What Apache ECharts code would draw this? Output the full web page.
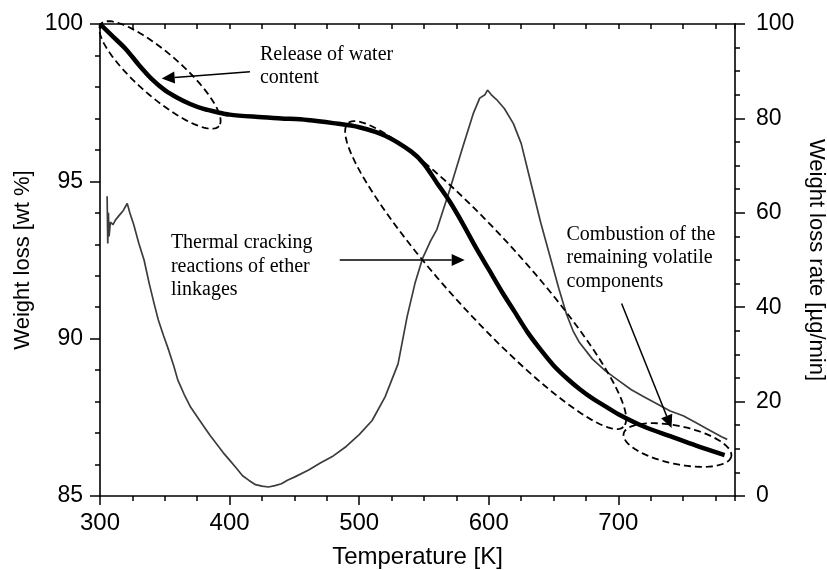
<!DOCTYPE html>
<html><head><meta charset="utf-8">
<script src="https://cdn.jsdelivr.net/npm/echarts@6/dist/echarts.min.js"></script>
<style>html,body{margin:0;padding:0;background:#fff}#c{width:827px;height:570px}</style>
</head><body><div id="c"></div>
<script>
// ---- data ----
const xTickLabels = [300, 400, 500, 600, 700];
const leftTicks = [85, 90, 95, 100];
const rightTicks = [0, 20, 40, 60, 80, 100];

// Weight loss [wt %] (thick black, left axis)
const weightT = [300,310,320,330,340,350,360,370,380,390,400,420,440,460,480,500,520,540,550,560,570,580,590,600,610,620,630,640,650,660,670,680,690,700,720,740,760,782];
const weightV = [100,99.6,99.2,98.7,98.25,97.9,97.65,97.45,97.3,97.2,97.12,97.05,97.0,96.95,96.85,96.72,96.45,95.95,95.55,94.95,94.35,93.65,92.9,92.2,91.5,90.85,90.2,89.65,89.15,88.75,88.4,88.1,87.85,87.6,87.2,86.9,86.6,86.3];

// Weight loss rate [ug/min] (thin grey, right axis)
const rateT = [305.5,306,306.5,307,308,310,312,315,318,320,321,323,326,330,334,338,342,345,349,353,357,360,365,370,375,380,385,390,395,400,405,410,415,420,425,430,435,440,445,450,461,470,480,490,500,510,520,530,537,543,549,555,560,570,580,588,593,597,599,602,606,612,619,625,631,640,647,654,660,665,670,680,690,700,710,720,730,740,750,760,770,780,784];
const rateV = [63.5,53.5,60,55,58,57.5,58.5,59.5,60.5,61.5,62,60,57.5,53.5,50,45,40.5,37.3,34,30.9,27.5,24.6,21.5,18.8,16.8,14.8,12.8,11.0,9.2,7.6,6.0,4.3,3.3,2.4,2.1,1.9,2.2,2.6,3.4,4.0,5.5,7.0,8.5,10.5,13,16,21,28,38,45,50.4,54,56.5,65,74,81,84.3,85,86,85,84,82.1,78.9,74.7,68,58,51,44,38.5,35,32.5,29,26.5,24.5,22.5,21,19.5,18,17,15.5,14,12.5,12];

// annotation anchors in data units [T, wt%]
const ellipses = [
  {c: [346.3, 98.38], rx: 78, ry: 22, angle: 41},
  {c: [597.6, 92.02], rx: 205, ry: 38, angle: 47.8},
  {c: [745.6, 86.62], rx: 55, ry: 19, angle: 12}
];
const arrows = [
  {from: [415.7, 98.48], to: [347.6, 98.27]},
  {from: [485, 92.5], to: [581.4, 92.5]},
  {from: [702.5, 91.12], to: [741, 87.16]}
];
const notes = [
  {at: [423.4, 99.40], text: 'Release of water\ncontent'},
  {at: [354.7, 93.42], text: 'Thermal cracking\nreactions of ether\nlinkages'},
  {at: [660, 93.68], text: 'Combustion of the\nremaining volatile\ncomponents'}
];

const chart = echarts.init(document.getElementById('c'), null, {renderer: 'canvas'});
const FONT = '"Liberation Sans", Arial, sans-serif';
const axisLine = {show: true, lineStyle: {color: '#000', width: 1.6}};
const XMIN = 300, XMAX = 790;

const option = {
  backgroundColor: '#fff',
  animation: false,
  grid: {left: 100, right: 92, top: 24, bottom: 74, containLabel: false, outerBoundsMode: 'none'},
  xAxis: [
    {type: 'value', position: 'bottom', min: XMIN, max: XMAX, interval: 100,
     axisLine: axisLine, splitLine: {show: false},
     axisTick: {show: true, length: 9, lineStyle: {color: '#000', width: 1.5}},
     axisLabel: {margin: 15, color: '#000', fontSize: 24, fontFamily: FONT, showMaxLabel: false,
       formatter: v => xTickLabels.indexOf(v) >= 0 ? String(v) : ''},
     name: 'Temperature [K]', nameLocation: 'middle', nameGap: 49,
     nameTextStyle: {color: '#000', fontSize: 24, fontFamily: FONT}},
    {type: 'value', position: 'bottom', min: XMIN, max: XMAX, interval: 25,
     axisLine: {show: false}, splitLine: {show: false}, axisLabel: {show: false},
     axisTick: {show: true, length: 5, lineStyle: {color: '#000', width: 1.5}}},
    {type: 'value', position: 'top', min: XMIN, max: XMAX, interval: 25,
     axisLine: axisLine, splitLine: {show: false}, axisLabel: {show: false},
     axisTick: {show: true, inside: true, length: 5, lineStyle: {color: '#000', width: 1.5}}}
  ],
  yAxis: [
    {type: 'value', position: 'left', min: 85, max: 100, interval: 5,
     axisLine: axisLine, splitLine: {show: false},
     axisTick: {show: true, length: 10, lineStyle: {color: '#000', width: 1.5}},
     minorTick: {show: true, splitNumber: 5, length: 5, lineStyle: {color: '#000', width: 1.5}},
     axisLabel: {margin: 17, color: '#000', fontSize: 23, fontFamily: FONT,
       formatter: v => leftTicks.indexOf(v) >= 0 ? String(v) : ''},
     name: 'Weight loss [wt %]', nameLocation: 'middle', nameGap: 61, nameRotate: 90,
     nameTextStyle: {color: '#000', fontSize: 22, fontFamily: FONT}},
    {type: 'value', position: 'right', min: 0, max: 100, interval: 20,
     axisLine: axisLine, splitLine: {show: false},
     axisTick: {show: true, length: 10, lineStyle: {color: '#000', width: 1.5}},
     minorTick: {show: true, splitNumber: 4, length: 5, lineStyle: {color: '#000', width: 1.5}},
     axisLabel: {margin: 21, color: '#000', fontSize: 23, fontFamily: FONT,
       formatter: v => rightTicks.indexOf(v) >= 0 ? String(v) : ''},
     name: 'Weight loss rate [\u00b5g/min]', nameLocation: 'middle', nameGap: 67, nameRotate: -90,
     nameTextStyle: {color: '#000', fontSize: 22, fontFamily: FONT}}
  ],
  series: [
    {type: 'line', name: 'rate', xAxisIndex: 0, yAxisIndex: 1, showSymbol: false, symbol: 'none',
     data: rateT.map((t, i) => [t, rateV[i]]), z: 2,
     lineStyle: {color: '#3c3c3c', width: 1.7}},
    {type: 'line', name: 'weight', xAxisIndex: 0, yAxisIndex: 0, showSymbol: false, symbol: 'none',
     smooth: 0.3,
     data: weightT.map((t, i) => [t, weightV[i]]), z: 3,
     lineStyle: {color: '#000', width: 4.5}}
  ]
};
chart.setOption(option);

function px(p) { return chart.convertToPixel({xAxisIndex: 0, yAxisIndex: 0}, p); }
const graphics = [];
ellipses.forEach(e => {
  const c = px(e.c), a = e.angle * Math.PI / 180, pts = [];
  for (let k = 0; k < 120; k++) {
    const t = k / 120 * 2 * Math.PI;
    const x = e.rx * Math.cos(t), y = e.ry * Math.sin(t);
    pts.push([c[0] + x * Math.cos(a) - y * Math.sin(a), c[1] + x * Math.sin(a) + y * Math.cos(a)]);
  }
  graphics.push({type: 'polygon', shape: {points: pts}, z: 10,
    style: {fill: 'none', stroke: '#000', lineWidth: 1.8, lineDash: [7, 4]}});
});
arrows.forEach(ar => {
  const f = px(ar.from), t = px(ar.to);
  const dx = t[0] - f[0], dy = t[1] - f[1], L = Math.hypot(dx, dy);
  const ux = dx / L, uy = dy / L, hl = 13, hw = 6;
  const bx = t[0] - ux * hl, by = t[1] - uy * hl;
  graphics.push({type: 'line', shape: {x1: f[0], y1: f[1], x2: bx, y2: by}, z: 10,
    style: {stroke: '#000', lineWidth: 1.5}});
  graphics.push({type: 'polygon', z: 10, shape: {points: [[t[0], t[1]], [bx - uy * hw, by + ux * hw], [bx + uy * hw, by - ux * hw]]},
    style: {fill: '#000', stroke: 'none'}});
});
notes.forEach(n => {
  const p = px(n.at);
  graphics.push({type: 'text', x: p[0], y: p[1], z: 11,
    style: {text: n.text, fill: '#000', font: '20px "Liberation Serif", "Times New Roman", serif',
      lineHeight: 23.5, verticalAlign: 'top', align: 'left'}});
});
chart.setOption({graphic: graphics});
</script>
</body></html>
